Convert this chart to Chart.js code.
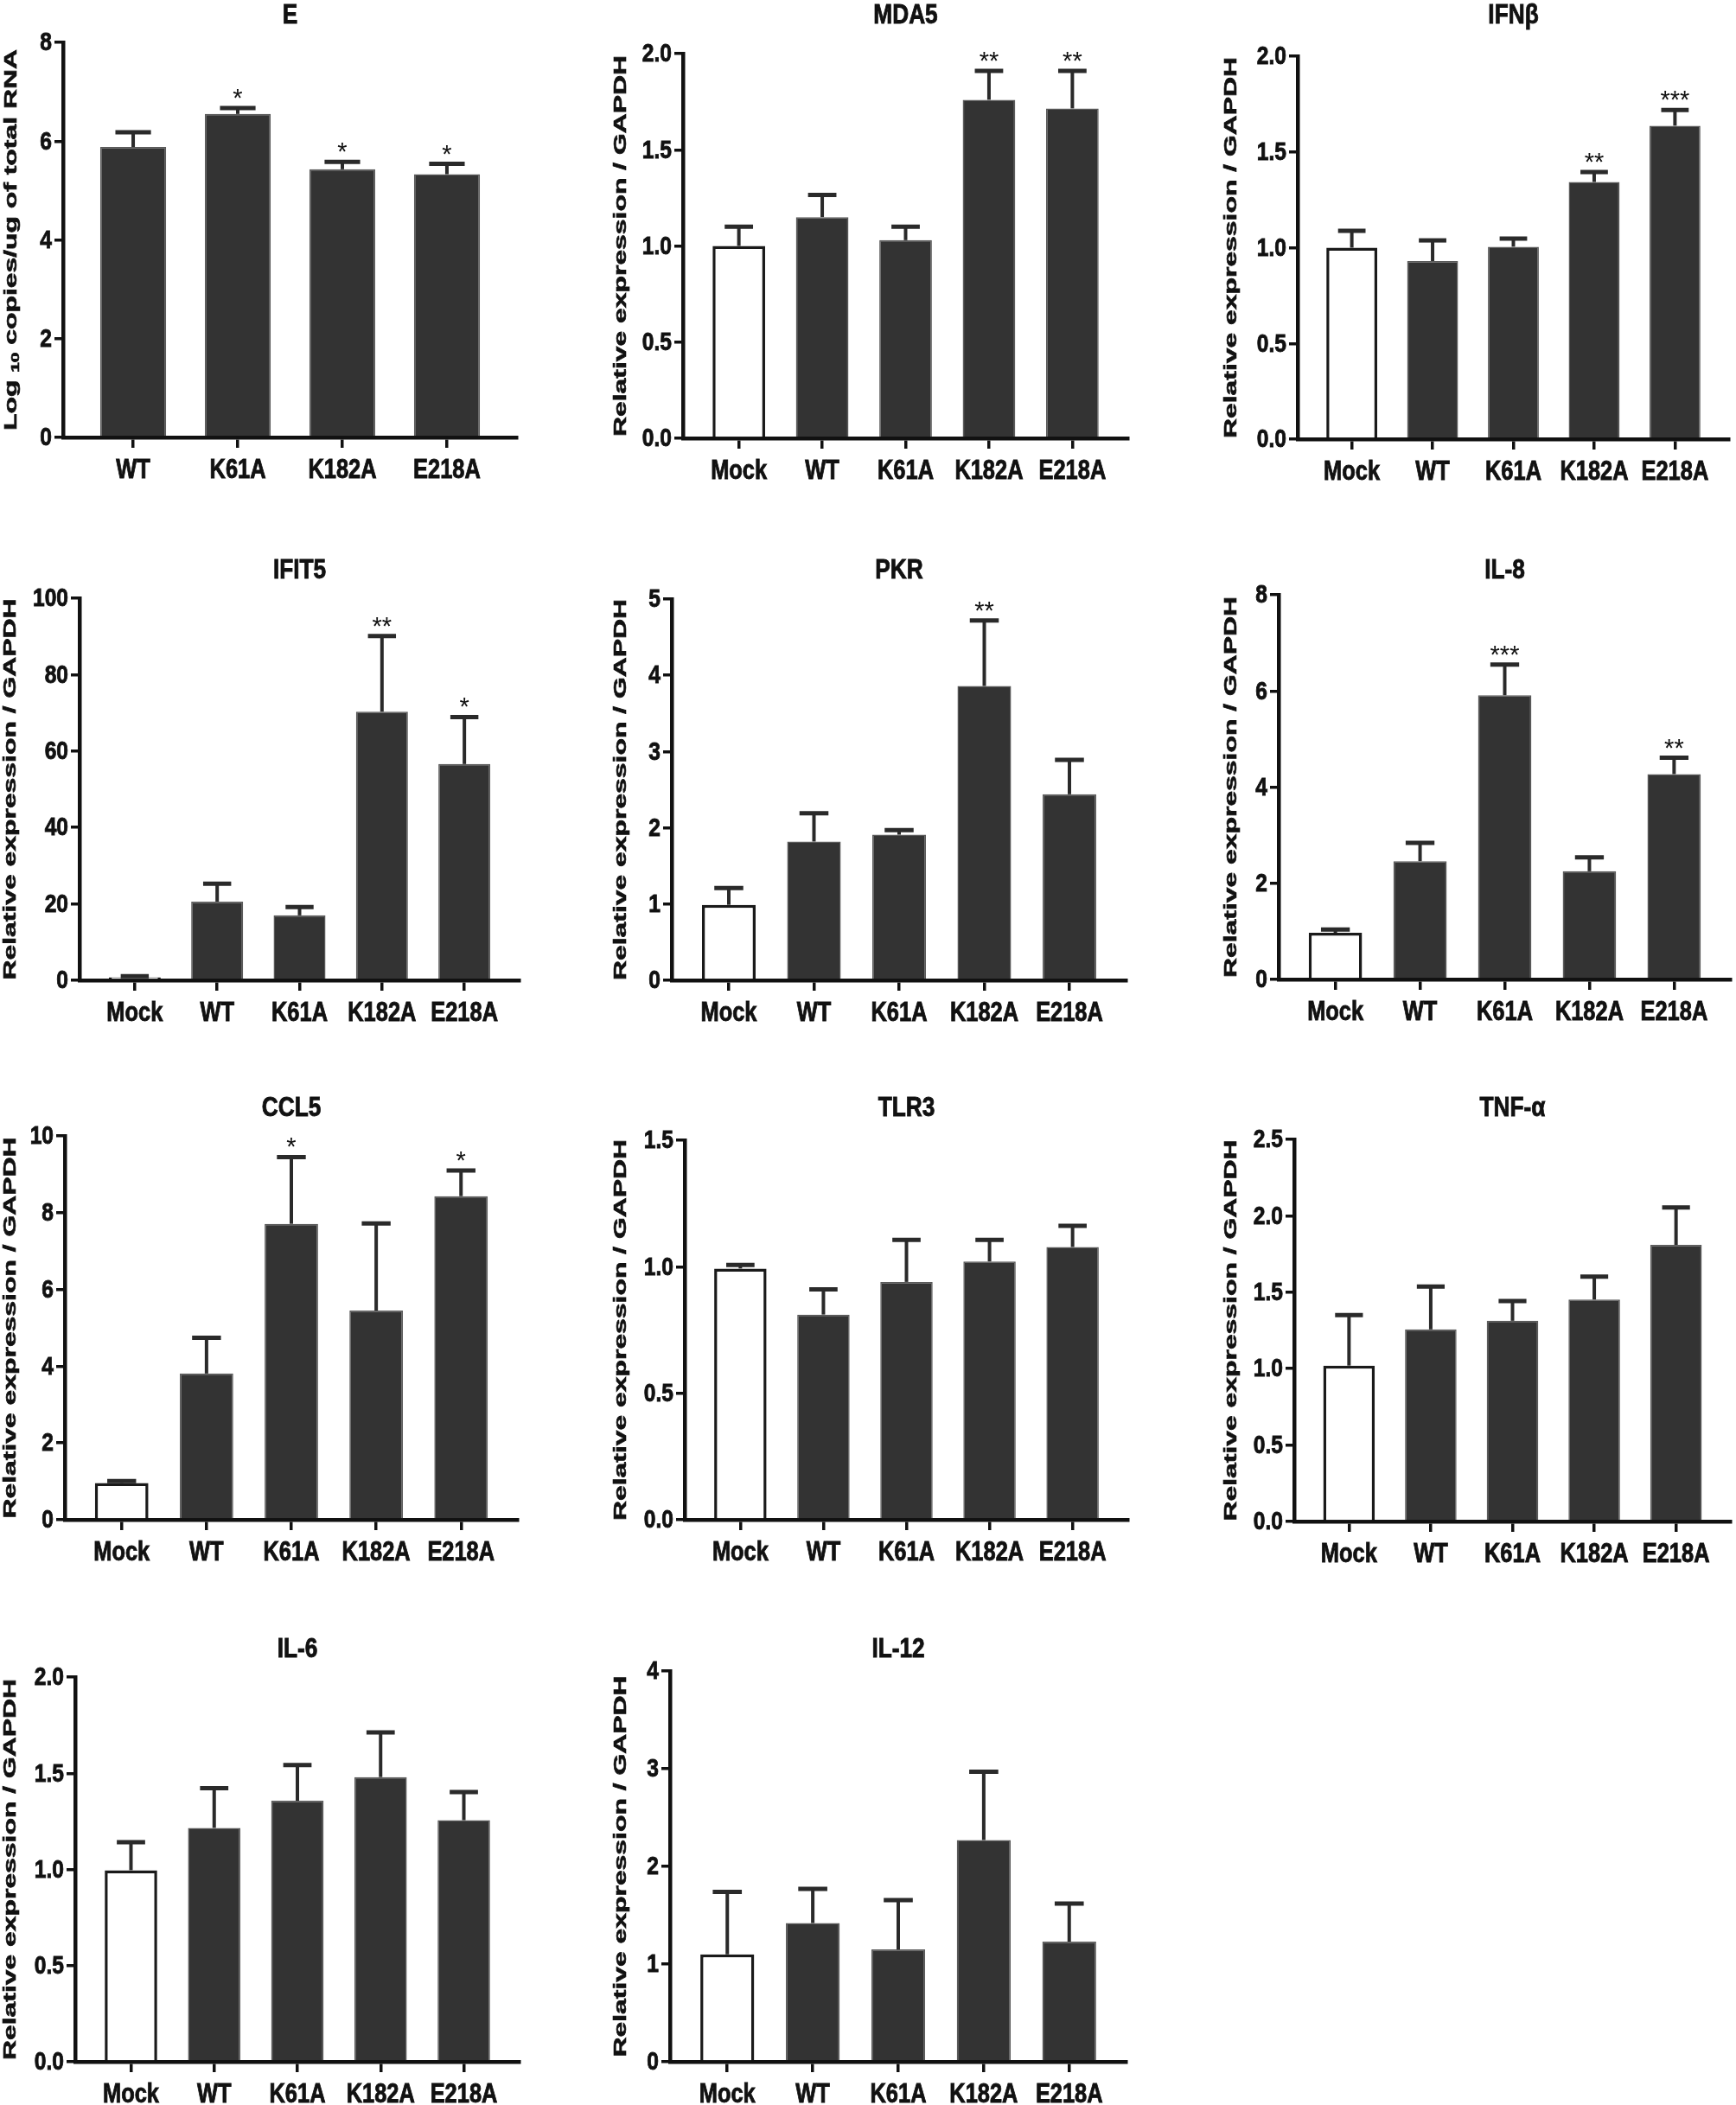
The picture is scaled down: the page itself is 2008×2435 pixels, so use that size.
<!DOCTYPE html>
<html>
<head>
<meta charset="utf-8">
<script src="https://cdn.jsdelivr.net/npm/chart.js@4.4.1/dist/chart.umd.min.js"></script>
<style>
  html, body { margin: 0; padding: 0; background: #fff; }
  body { width: 2008px; height: 2435px; position: relative; overflow: hidden; }
  canvas { position: absolute; }
</style>
</head>
<body>
<script>
// groups
const groups5 = ["Mock", "WT", "K61A", "K182A", "E218A"];
const groups4 = ["WT", "K61A", "K182A", "E218A"];

// values: mean, SEM (upper bar), significance marks, y tick labels
const eMean = [5.88, 6.55, 5.43, 5.33];
const eErr = [0.30, 0.12, 0.15, 0.21];
const eStars = ["", "*", "*", "*"];
const eTicks = ["0", "2", "4", "6", "8"];

const mda5Mean = [1.0, 1.15, 1.03, 1.76, 1.715];
const mda5Err = [0.10, 0.115, 0.07, 0.15, 0.195];
const mda5Stars = ["", "", "", "**", "**"];
const mda5Ticks = ["0.0", "0.5", "1.0", "1.5", "2.0"];

const ifnbMean = [1.0, 0.93, 1.005, 1.343, 1.637];
const ifnbErr = [0.088, 0.108, 0.042, 0.052, 0.082];
const ifnbStars = ["", "", "", "**", "***"];
const ifnbTicks = ["0.0", "0.5", "1.0", "1.5", "2.0"];

const ifit5Mean = [0.8, 20.6, 17.0, 70.3, 56.6];
const ifit5Err = [0.3, 4.7, 2.2, 19.8, 12.3];
const ifit5Stars = ["", "", "", "**", "*"];
const ifit5Ticks = ["0", "20", "40", "60", "80", "100"];

const pkrMean = [0.99, 1.82, 1.91, 3.86, 2.44];
const pkrErr = [0.22, 0.37, 0.06, 0.86, 0.45];
const pkrStars = ["", "", "", "**", ""];
const pkrTicks = ["0", "1", "2", "3", "4", "5"];

const il8Mean = [0.97, 2.46, 5.91, 2.25, 4.27];
const il8Err = [0.07, 0.38, 0.64, 0.29, 0.34];
const il8Stars = ["", "", "***", "", "**"];
const il8Ticks = ["0", "2", "4", "6", "8"];

const ccl5Mean = [0.96, 3.81, 7.71, 5.45, 8.43];
const ccl5Err = [0.05, 0.93, 1.74, 2.27, 0.67];
const ccl5Stars = ["", "", "*", "", "*"];
const ccl5Ticks = ["0", "2", "4", "6", "8", "10"];

const tlr3Mean = [0.993, 0.811, 0.94, 1.021, 1.078];
const tlr3Err = [0.014, 0.10, 0.166, 0.085, 0.084];
const tlr3Stars = ["", "", "", "", ""];
const tlr3Ticks = ["0.0", "0.5", "1.0", "1.5"];

const tnfMean = [1.02, 1.257, 1.313, 1.452, 1.81];
const tnfErr = [0.33, 0.28, 0.13, 0.15, 0.245];
const tnfStars = ["", "", "", "", ""];
const tnfTicks = ["0.0", "0.5", "1.0", "1.5", "2.0", "2.5"];

const il6Mean = [0.996, 1.216, 1.357, 1.48, 1.256];
const il6Err = [0.146, 0.207, 0.186, 0.232, 0.146];
const il6Stars = ["", "", "", "", ""];
const il6Ticks = ["0.0", "0.5", "1.0", "1.5", "2.0"];

const il12Mean = [1.10, 1.42, 1.15, 2.27, 1.23];
const il12Err = [0.64, 0.35, 0.505, 0.70, 0.39];
const il12Stars = ["", "", "", "", ""];
const il12Ticks = ["0", "1", "2", "3", "4"];

// y titles as text pieces: [text, size, baseline shift]
const relTitle = [["Relative expression / GAPDH", 20, 0]];
const logTitle = [["Log ", 20, 0], ["10", 13, 3], [" copies/ug of total RNA", 20, 0]];

// page layout: plot box in page pixels, title centre line, gap from y axis to its title
const panels = [
  { title: "E", cats: groups4, mean: eMean, err: eErr, stars: eStars, ticks: eTicks, yTitle: logTitle,
    left: 73, top: 49, bottom: 506, right: 598, titleY: 18, yGap: 61 },
  { title: "MDA5", cats: groups5, mean: mda5Mean, err: mda5Err, stars: mda5Stars, ticks: mda5Ticks, yTitle: relTitle,
    left: 790, top: 62, bottom: 507, right: 1305, titleY: 18, yGap: 73 },
  { title: "IFN\u03b2", cats: groups5, mean: ifnbMean, err: ifnbErr, stars: ifnbStars, ticks: ifnbTicks, yTitle: relTitle,
    left: 1501, top: 65, bottom: 508, right: 2000, titleY: 18, yGap: 78 },
  { title: "IFIT5", cats: groups5, mean: ifit5Mean, err: ifit5Err, stars: ifit5Stars, ticks: ifit5Ticks, yTitle: relTitle,
    left: 92, top: 692, bottom: 1134, right: 601, titleY: 660, yGap: 81 },
  { title: "PKR", cats: groups5, mean: pkrMean, err: pkrErr, stars: pkrStars, ticks: pkrTicks, yTitle: relTitle,
    left: 777, top: 693, bottom: 1134, right: 1303, titleY: 660, yGap: 60 },
  { title: "IL-8", cats: groups5, mean: il8Mean, err: il8Err, stars: il8Stars, ticks: il8Ticks, yTitle: relTitle,
    left: 1479, top: 688, bottom: 1133, right: 2002, titleY: 660, yGap: 56 },
  { title: "CCL5", cats: groups5, mean: ccl5Mean, err: ccl5Err, stars: ccl5Stars, ticks: ccl5Ticks, yTitle: relTitle,
    left: 75, top: 1314, bottom: 1758, right: 599, titleY: 1282, yGap: 64 },
  { title: "TLR3", cats: groups5, mean: tlr3Mean, err: tlr3Err, stars: tlr3Stars, ticks: tlr3Ticks, yTitle: relTitle,
    left: 792, top: 1319, bottom: 1758, right: 1305, titleY: 1282, yGap: 75 },
  { title: "TNF-\u03b1", cats: groups5, mean: tnfMean, err: tnfErr, stars: tnfStars, ticks: tnfTicks, yTitle: relTitle,
    left: 1497, top: 1318, bottom: 1760, right: 2002, titleY: 1282, yGap: 74 },
  { title: "IL-6", cats: groups5, mean: il6Mean, err: il6Err, stars: il6Stars, ticks: il6Ticks, yTitle: relTitle,
    left: 87, top: 1940, bottom: 2385, right: 601, titleY: 1908, yGap: 76 },
  { title: "IL-12", cats: groups5, mean: il12Mean, err: il12Err, stars: il12Stars, ticks: il12Ticks, yTitle: relTitle,
    left: 775, top: 1933, bottom: 2385, right: 1303, titleY: 1908, yGap: 58 },
];

const FONT = '"Liberation Sans", Arial, sans-serif';
const INK = "#111";
const BAR = "#333333";
const X_AXIS_H = 70;
const RIGHT_PAD = 10;
const Y_AXIS_W_EXTRA = 16;
const NARROW_X = 0.82;      // the figure uses a condensed bold face
const TITLE_SIZE = 32;
const CAT_SIZE = 31;
const TICK_SIZE = 30;
const Y_TITLE_LEN = 441;    // length of "Relative expression / GAPDH" in the figure

// condensed bold text, drawn by squeezing the regular bold face
function narrowText(ctx, str, x, y, size, align) {
  ctx.save();
  ctx.font = "bold " + size + "px " + FONT;
  ctx.textBaseline = "middle";
  ctx.textAlign = "left";
  const w = ctx.measureText(str).width * NARROW_X;
  const x0 = align === "center" ? x - w / 2 : align === "right" ? x - w : x;
  ctx.translate(x0, y);
  ctx.scale(NARROW_X, 1);
  ctx.fillStyle = INK;
  ctx.strokeStyle = INK;
  ctx.lineWidth = 0.9;
  ctx.fillText(str, 0, 0);
  ctx.strokeText(str, 0, 0);
  ctx.restore();
}

// rotated, horizontally stretched bold axis title
function yTitleText(ctx, pieces, cx, cy) {
  ctx.save();
  ctx.font = "bold 20px " + FONT;
  const stretch = Y_TITLE_LEN / ctx.measureText("Relative expression / GAPDH").width;
  const widths = pieces.map(([t, s]) => {
    ctx.font = "bold " + s + "px " + FONT;
    return ctx.measureText(t).width;
  });
  const total = widths.reduce((a, b) => a + b, 0);
  ctx.translate(cx, cy);
  ctx.rotate(-Math.PI / 2);
  ctx.scale(stretch, 1);
  ctx.fillStyle = INK;
  ctx.strokeStyle = INK;
  ctx.lineWidth = 0.6;
  ctx.textAlign = "left";
  ctx.textBaseline = "alphabetic";
  let x = -total / 2;
  pieces.forEach(([t, s, dy], i) => {
    ctx.font = "bold " + s + "px " + FONT;
    ctx.fillText(t, x, 7.2 + dy);
    ctx.strokeText(t, x, 7.2 + dy);
    x += widths[i];
  });
  ctx.restore();
}

// upward SEM bars + asterisks, positioned with the chart's own scales
const errorBars = {
  id: "errorBars",
  afterDatasetsDraw(chart) {
    const ds = chart.data.datasets[0];
    const meta = chart.getDatasetMeta(0);
    const yScale = chart.scales.y;
    const ctx = chart.ctx;
    ctx.save();
    meta.data.forEach((bar, i) => {
      const capY = yScale.getPixelForValue(ds.data[i].y + ds.errors[i]);
      const half = bar.width * 0.27;
      ctx.strokeStyle = "#2a2a2a";
      ctx.lineCap = "butt";
      ctx.lineWidth = 4;
      ctx.beginPath();
      ctx.moveTo(bar.x, bar.y);
      ctx.lineTo(bar.x, capY);
      ctx.stroke();
      ctx.lineWidth = 5;
      ctx.beginPath();
      ctx.moveTo(bar.x - half, capY);
      ctx.lineTo(bar.x + half, capY);
      ctx.stroke();
      if (ds.stars[i]) {
        ctx.fillStyle = INK;
        ctx.font = "29px " + FONT;
        ctx.textAlign = "center";
        ctx.textBaseline = "alphabetic";
        ctx.fillText(ds.stars[i], bar.x, capY - 2);
      }
    });
    ctx.restore();
  }
};

// panel title, tick labels and axis title in the figure's lettering
function textLayer(p, titleLocalY) {
  return {
    id: "textLayer",
    afterDraw(chart) {
      const ctx = chart.ctx;
      const area = chart.chartArea;
      const xs = chart.scales.x;
      const ys = chart.scales.y;
      narrowText(ctx, p.title, (area.left + area.right) / 2, titleLocalY, TITLE_SIZE, "center");
      p.cats.forEach((c, i) => {
        narrowText(ctx, c, xs.getPixelForValue(i), area.bottom + 38, CAT_SIZE, "center");
      });
      p.ticks.forEach((t) => {
        narrowText(ctx, t, area.left - 13, ys.getPixelForValue(Number(t)) + 1, TICK_SIZE, "right");
      });
      yTitleText(ctx, p.yTitle, area.left - p.yGap, (area.top + area.bottom) / 2);
    }
  };
}

panels.forEach((p) => {
  const yW = p.yGap + Y_AXIS_W_EXTRA;
  const canvasLeft = p.left - yW;
  const canvasTop = p.titleY - 40;
  const padTop = p.top - canvasTop;
  const width = Math.round(yW + (p.right - p.left) + RIGHT_PAD);
  const height = Math.round(padTop + (p.bottom - p.top) + X_AXIS_H);

  const canvas = document.createElement("canvas");
  canvas.width = width;
  canvas.height = height;
  canvas.style.left = canvasLeft + "px";
  canvas.style.top = canvasTop + "px";
  canvas.style.width = width + "px";
  canvas.style.height = height + "px";
  document.body.appendChild(canvas);

  const n = p.cats.length;
  const yMax = Number(p.ticks[p.ticks.length - 1]);

  new Chart(canvas, {
    type: "bar",
    data: {
      datasets: [{
        data: p.mean.map((v, i) => ({ x: i, y: v })),
        errors: p.err,
        stars: p.stars,
        backgroundColor: p.cats.map((c) => (c === "Mock" ? "#ffffff" : BAR)),
        borderColor: p.cats.map((c) => (c === "Mock" ? "#1a1a1a" : "#5a5a5a")),
        borderWidth: p.cats.map((c) => (c === "Mock" ? 3.5 : 1.5)),
        borderSkipped: "bottom",
        categoryPercentage: 1,
        barPercentage: 0.63,
      }],
    },
    options: {
      responsive: false,
      animation: false,
      devicePixelRatio: 1,
      layout: { padding: { left: 0, right: RIGHT_PAD, top: padTop, bottom: 0 } },
      plugins: {
        legend: { display: false },
        tooltip: { enabled: false },
        title: { display: false },
      },
      scales: {
        x: {
          type: "linear",
          min: -0.67,
          max: n - 1 + 0.67,
          offset: false,
          afterBuildTicks: (s) => { s.ticks = p.cats.map((c, i) => ({ value: i })); },
          afterFit: (s) => { s.height = X_AXIS_H; },
          ticks: { display: false, autoSkip: false },
          grid: { offset: false, drawOnChartArea: false, drawTicks: true, tickLength: 12, lineWidth: 3.5, color: INK },
          border: { display: true, width: 4.5, color: INK },
        },
        y: {
          min: 0,
          max: yMax,
          afterBuildTicks: (s) => { s.ticks = p.ticks.map((t) => ({ value: Number(t) })); },
          afterFit: (s) => { s.width = yW; },
          ticks: { display: false },
          grid: { drawOnChartArea: false, drawTicks: true, tickLength: 10, lineWidth: 3.5, color: INK },
          border: { display: true, width: 4.5, color: INK },
          title: { display: false },
        },
      },
    },
    plugins: [errorBars, textLayer(p, p.titleY - canvasTop)],
  });
});
</script>
</body>
</html>
